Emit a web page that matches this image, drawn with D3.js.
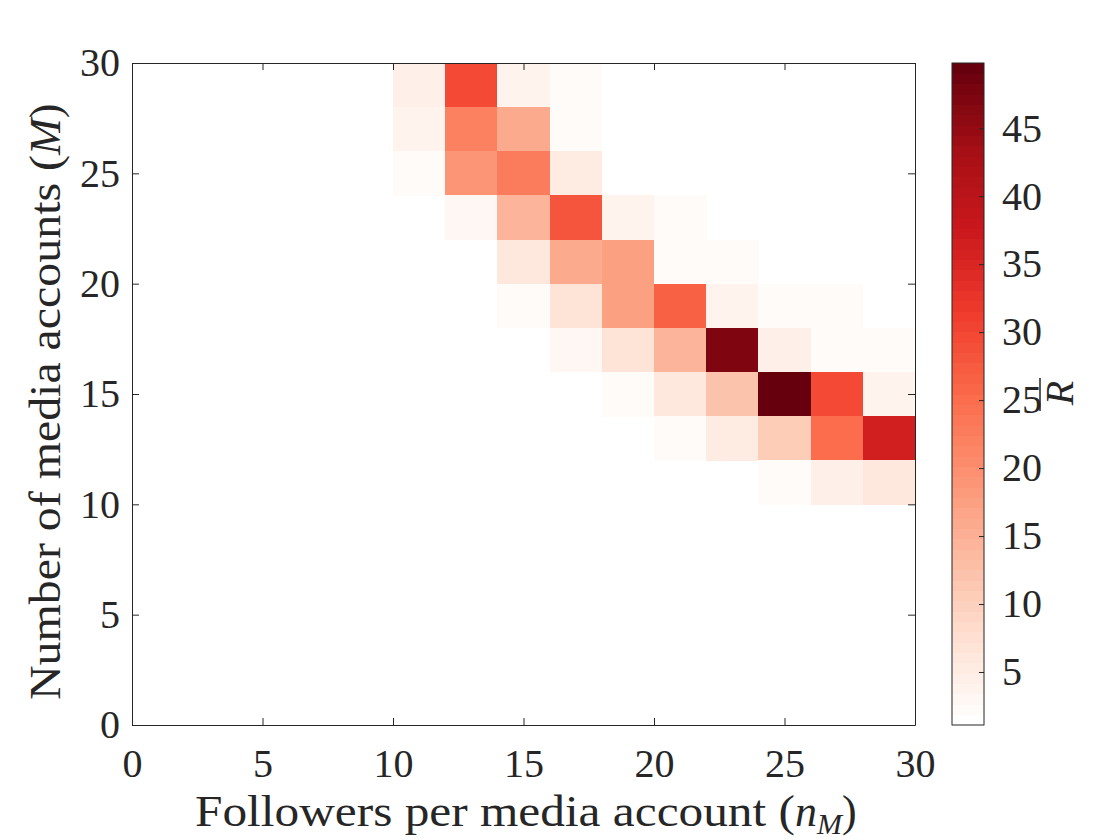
<!DOCTYPE html>
<html>
<head>
<meta charset="utf-8">
<script src="https://cdn.jsdelivr.net/npm/d3@7"></script>
<style>
  body { margin: 0; background: #fff; }
  text { font-family: "Liberation Serif", "DejaVu Serif", serif; fill: #262626; }
</style>
</head>
<body>
<svg id="chart" width="1120" height="840"></svg>
<script>
// cell lower-left corners (each cell is 2 x 2)
const xStarts = [10, 12, 14, 16, 18, 20, 22, 24, 26, 28];
const yStarts = [28, 26, 24, 22, 20, 18, 16, 14, 12, 10];
// mean R per cell, rows top to bottom, null = no run
const rValues = [
  [4.3, 29.5, 3.4, 2.0, null, null, null, null, null, null],
  [3.4, 21.8, 15.6, 2.2, null, null, null, null, null, null],
  [2.4, 18.7, 22.6, 5.5, 1.8, null, null, null, null, null],
  [null, 3.2, 14.1, 28.2, 3.4, 2.0, null, null, null, null],
  [null, 1.8, 6.3, 15.6, 17.8, 2.4, 2.0, null, null, null],
  [null, null, 2.4, 6.9, 17.7, 26.8, 3.4, 2.0, 2.0, null],
  [null, null, null, 3.2, 6.5, 14.6, 47.2, 4.3, 2.2, 2.0],
  [null, null, null, null, 2.4, 6.3, 12.2, 49.7, 29.5, 3.7],
  [null, null, null, null, null, 2.0, 5.1, 10.7, 24.9, 36.5],
  [null, null, null, null, null, null, null, 2.4, 4.6, 5.7]
];
const axisTicks = [0, 5, 10, 15, 20, 25, 30];
const barTicks = [5, 10, 15, 20, 25, 30, 35, 40, 45];
const colorDomain = [1.1, 49.8];

const cellSize = 2;
const plot = { left: 132, right: 915, top: 63, bottom: 725 };
const bar = { left: 952, right: 984 };
const ink = "#262626";

const svg = d3.select("#chart");

const x = d3.scaleLinear().domain([0, 30]).range([plot.left, plot.right]);
const y = d3.scaleLinear().domain([0, 30]).range([plot.bottom, plot.top]);

const reds = d3.piecewise(d3.interpolateRgb, ["#ffffff", "#fee0d2", "#fcbba1", "#fc9272", "#fb6a4a", "#ef3b2c", "#cb181d", "#a50f15", "#67000d"]);
const color = d3.scaleQuantize()
  .domain(colorDomain)
  .range(d3.range(64).map(i => reds(i / 63)));

// flatten grid into cells
const cells = [];
rValues.forEach((row, i) => {
  row.forEach((v, j) => {
    if (v !== null) cells.push({ x0: xStarts[j], y0: yStarts[i], v: v });
  });
});

svg.append("g")
  .selectAll("rect")
  .data(cells)
  .join("rect")
  .attr("x", d => x(d.x0))
  .attr("y", d => y(d.y0 + cellSize))
  .attr("width", d => x(d.x0 + cellSize) - x(d.x0) + 0.5)
  .attr("height", d => y(d.y0) - y(d.y0 + cellSize) + 0.5)
  .attr("fill", d => color(d.v))
  .attr("shape-rendering", "crispEdges");

function styleAxis(g, showLabels) {
  g.select(".domain").attr("stroke", ink).attr("stroke-width", 1);
  g.selectAll(".tick line").attr("stroke", ink);
  g.selectAll(".tick text")
    .attr("fill", ink)
    .style("font-size", "40px")
    .style("display", showLabels ? null : "none");
}

svg.append("g")
  .attr("transform", `translate(0,${plot.bottom})`)
  .call(d3.axisBottom(x).tickValues(axisTicks).tickSize(-7).tickSizeOuter(0).tickPadding(24))
  .call(g => styleAxis(g, true));

svg.append("g")
  .attr("transform", `translate(0,${plot.top})`)
  .call(d3.axisTop(x).tickValues(axisTicks).tickSize(-7).tickSizeOuter(0))
  .call(g => styleAxis(g, false));

svg.append("g")
  .attr("transform", `translate(${plot.left},0)`)
  .call(d3.axisLeft(y).tickValues(axisTicks).tickSize(-7).tickSizeOuter(0).tickPadding(12))
  .call(g => styleAxis(g, true));

svg.append("g")
  .attr("transform", `translate(${plot.right},0)`)
  .call(d3.axisRight(y).tickValues(axisTicks).tickSize(-7).tickSizeOuter(0))
  .call(g => styleAxis(g, false));

// colorbar
const cy = d3.scaleLinear().domain(colorDomain).range([plot.bottom, plot.top]);
const bands = color.range().map(c => {
  const [lo, hi] = color.invertExtent(c);
  return { lo: lo, hi: hi, c: c };
});

svg.append("g")
  .selectAll("rect")
  .data(bands)
  .join("rect")
  .attr("x", bar.left)
  .attr("width", bar.right - bar.left)
  .attr("y", d => cy(d.hi))
  .attr("height", d => cy(d.lo) - cy(d.hi) + 0.5)
  .attr("fill", d => d.c)
  .attr("shape-rendering", "crispEdges");

svg.append("rect")
  .attr("x", bar.left)
  .attr("y", plot.top)
  .attr("width", bar.right - bar.left)
  .attr("height", plot.bottom - plot.top)
  .attr("fill", "none")
  .attr("stroke", ink);

svg.append("g")
  .attr("transform", `translate(${bar.right},0)`)
  .call(d3.axisRight(cy).tickValues(barTicks).tickSize(-5).tickSizeOuter(0).tickPadding(18))
  .call(g => styleAxis(g, true))
  .call(g => g.select(".domain").remove());

// labels
const xLabel = svg.append("text")
  .attr("x", 195)
  .attr("y", 826)
  .style("font-size", "44px");
xLabel.append("tspan").attr("textLength", 600).attr("lengthAdjust", "spacingAndGlyphs")
  .text("Followers per media account (");
xLabel.append("tspan").style("font-style", "italic").text("n");
xLabel.append("tspan").style("font-style", "italic").style("font-size", "30px").attr("dy", 8).text("M");
xLabel.append("tspan").attr("dy", -8).text(")");

const yLabel = svg.append("text")
  .attr("transform", `translate(60,700) rotate(-90)`)
  .style("font-size", "44px");
yLabel.append("tspan").attr("textLength", 545).attr("lengthAdjust", "spacingAndGlyphs")
  .text("Number of media accounts (");
yLabel.append("tspan").style("font-style", "italic").text("M");
yLabel.append("tspan").text(")");

// colorbar label: R with a bar over it
svg.append("text")
  .attr("transform", `translate(1073,393) rotate(-90)`)
  .attr("text-anchor", "middle")
  .style("font-size", "40px")
  .style("font-style", "italic")
  .text("R");

svg.append("line")
  .attr("x1", 1040).attr("x2", 1040)
  .attr("y1", 378).attr("y2", 411)
  .attr("stroke", ink)
  .attr("stroke-width", 1.5);
</script>
</body>
</html>
